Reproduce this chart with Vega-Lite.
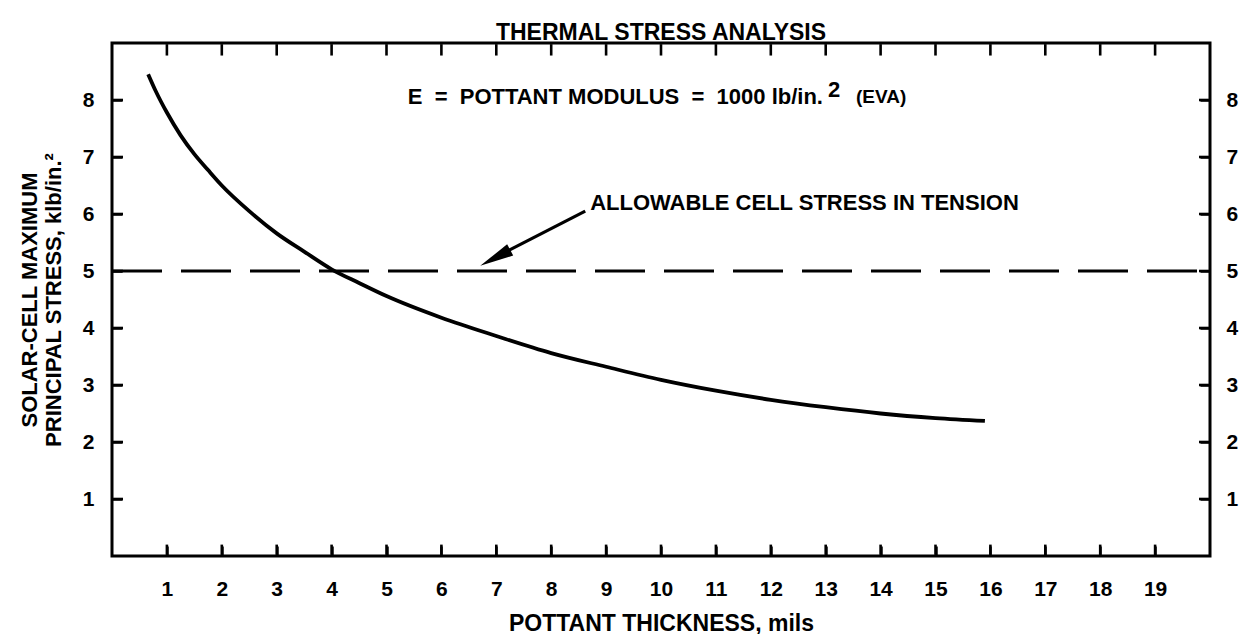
{
  "$schema": "https://vega.github.io/schema/vega-lite/v6.json",
  "width": 1098,
  "height": 513,
  "autosize": {"type": "none"},
  "padding": {"left": 112, "top": 43, "right": 41, "bottom": 78},
  "background": "white",
  "title": {"text": "THERMAL STRESS ANALYSIS", "anchor": "middle", "font": "Liberation Sans", "fontSize": 23, "fontWeight": "bold", "color": "black", "offset": -2},
  "config": {
    "view": {"stroke": "black", "strokeWidth": 3}
  },
  "datasets": {
    "curve": [
      {"t": 0.66, "s": 8.45}, {"t": 0.8, "s": 8.15}, {"t": 1.0, "s": 7.78}, {"t": 1.25, "s": 7.38},
      {"t": 1.5, "s": 7.05}, {"t": 1.75, "s": 6.77}, {"t": 2.0, "s": 6.5}, {"t": 2.5, "s": 6.05},
      {"t": 3.0, "s": 5.66}, {"t": 3.5, "s": 5.34}, {"t": 4.0, "s": 5.03}, {"t": 4.5, "s": 4.79},
      {"t": 5.0, "s": 4.56}, {"t": 6.0, "s": 4.18}, {"t": 7.0, "s": 3.86}, {"t": 8.0, "s": 3.56},
      {"t": 9.0, "s": 3.32}, {"t": 10.0, "s": 3.09}, {"t": 11.0, "s": 2.9}, {"t": 12.0, "s": 2.74},
      {"t": 13.0, "s": 2.61}, {"t": 14.0, "s": 2.5}, {"t": 15.0, "s": 2.42}, {"t": 15.9, "s": 2.37}
    ],
    "limit": [{"t": 0, "s": 5}, {"t": 20, "s": 5}],
    "xticks": [{"t": 1}, {"t": 2}, {"t": 3}, {"t": 4}, {"t": 5}, {"t": 6}, {"t": 7}, {"t": 8}, {"t": 9}, {"t": 10}, {"t": 11}, {"t": 12}, {"t": 13}, {"t": 14}, {"t": 15}, {"t": 16}, {"t": 17}, {"t": 18}, {"t": 19}],
    "yticks": [{"s": 1}, {"s": 2}, {"s": 3}, {"s": 4}, {"s": 5}, {"s": 6}, {"s": 7}, {"s": 8}],
    "arrow": [{"t": 8.62, "s": 6.05, "t2": 7.1, "s2": 5.3}],
    "head": [{"t": 6.98, "s": 5.23}],
    "main": [{"t": 12.95, "s": 8.05, "txt": "E \u00a0=\u00a0 POTTANT MODULUS \u00a0=\u00a0 1000 lb/in."}],
    "allow": [{"t": 8.71, "s": 6.19, "txt": "ALLOWABLE CELL STRESS IN TENSION"}],
    "sup": [{"t": 13.04, "s": 8.18, "txt": "2"}],
    "eva": [{"t": 13.55, "s": 8.06, "txt": "(EVA)"}]
  },
  "resolve": {"axis": {"x": "independent", "y": "independent"}},
  "layer": [
    {
      "data": {"name": "curve"},
      "mark": {"type": "line", "color": "black", "strokeWidth": 3.8, "interpolate": "monotone"},
      "encoding": {
        "x": {"field": "t", "type": "quantitative", "scale": {"domain": [0, 20], "nice": false},
              "axis": {"orient": "bottom", "zindex": 2, "values": [1,2,3,4,5,6,7,8,9,10,11,12,13,14,15,16,17,18,19], "domain": false, "grid": false, "ticks": true, "tickColor": "black", "tickWidth": 2.5, "tickOpacity": 1, "offset": -10, "tickSize": 10, "labelPadding": 22, "labelFont": "Liberation Sans", "labelFontWeight": "bold", "labelFontSize": 21, "labelColor": "black", "title": "POTTANT THICKNESS, mils", "titleFont": "Liberation Sans", "titleFontWeight": "bold", "titleFontSize": 23, "titleColor": "black", "titlePadding": 13}},
        "y": {"field": "s", "type": "quantitative", "scale": {"domain": [0, 9], "nice": false},
              "axis": {"orient": "left", "zindex": 2, "values": [1,2,3,4,5,6,7,8], "domain": false, "grid": false, "ticks": true, "tickColor": "black", "tickWidth": 2.5, "tickOpacity": 1, "offset": -10, "tickSize": 10, "labelPadding": 18, "labelFont": "Liberation Sans", "labelFontWeight": "bold", "labelFontSize": 21, "labelColor": "black", "title": ["SOLAR-CELL MAXIMUM", "PRINCIPAL STRESS, klb/in.²"], "titleFont": "Liberation Sans", "titleFontWeight": "bold", "titleFontSize": 22, "titleColor": "black", "titlePadding": 17}}
      }
    },
    {
      "data": {"name": "limit"},
      "mark": {"type": "line", "color": "black", "strokeWidth": 2.8, "strokeDash": [50, 19]},
      "encoding": {
        "x": {"field": "t", "type": "quantitative", "scale": {"domain": [0, 20], "nice": false}, "axis": null},
        "y": {"field": "s", "type": "quantitative", "scale": {"domain": [0, 9], "nice": false},
              "axis": {"orient": "right", "zindex": 2, "values": [1,2,3,4,5,6,7,8], "domain": false, "grid": false, "ticks": true, "tickColor": "black", "tickWidth": 2.5, "tickOpacity": 1, "offset": -10, "tickSize": 10, "labelPadding": 16, "labelFont": "Liberation Sans", "labelFontWeight": "bold", "labelFontSize": 21, "labelColor": "black", "title": null}}
      }
    },
    {
      "data": {"name": "xticks"},
      "mark": {"type": "rule", "color": "black", "strokeWidth": 2.6, "opacity": 1},
      "encoding": {
        "x": {"field": "t", "type": "quantitative", "axis": null},
        "y": {"datum": 0.02, "type": "quantitative", "axis": null},
        "y2": {"datum": 0.2}
      }
    },
    {
      "data": {"name": "xticks"},
      "mark": {"type": "rule", "color": "black", "strokeWidth": 2.6, "opacity": 1},
      "encoding": {
        "x": {"field": "t", "type": "quantitative", "axis": null},
        "y": {"datum": 8.98, "type": "quantitative", "axis": null},
        "y2": {"datum": 8.78}
      }
    },
    {
      "data": {"name": "yticks"},
      "mark": {"type": "rule", "color": "black", "strokeWidth": 2.6, "opacity": 1},
      "encoding": {
        "y": {"field": "s", "type": "quantitative", "axis": null},
        "x": {"datum": 0.02, "type": "quantitative", "axis": null},
        "x2": {"datum": 0.2}
      }
    },
    {
      "data": {"name": "yticks"},
      "mark": {"type": "rule", "color": "black", "strokeWidth": 2.6, "opacity": 1},
      "encoding": {
        "y": {"field": "s", "type": "quantitative", "axis": null},
        "x": {"datum": 19.98, "type": "quantitative", "axis": null},
        "x2": {"datum": 19.8}
      }
    },
    {
      "data": {"name": "arrow"},
      "mark": {"type": "rule", "color": "black", "strokeWidth": 3.2},
      "encoding": {
        "x": {"field": "t", "type": "quantitative", "axis": null},
        "y": {"field": "s", "type": "quantitative", "axis": null},
        "x2": {"field": "t2"},
        "y2": {"field": "s2"}
      }
    },
    {
      "data": {"name": "head"},
      "mark": {"type": "point", "shape": "M -1 0 L 1 -0.38 L 1 0.38 Z", "filled": true, "color": "black", "opacity": 1, "size": 1150, "angle": 332},
      "encoding": {
        "x": {"field": "t", "type": "quantitative", "axis": null},
        "y": {"field": "s", "type": "quantitative", "axis": null}
      }
    },
    {
      "data": {"name": "main"},
      "mark": {"type": "text", "font": "Liberation Sans", "fontWeight": "bold", "fontSize": 22, "color": "black", "baseline": "middle", "align": "right"},
      "encoding": {
        "x": {"field": "t", "type": "quantitative", "axis": null},
        "y": {"field": "s", "type": "quantitative", "axis": null},
        "text": {"field": "txt"}
      }
    },
    {
      "data": {"name": "allow"},
      "mark": {"type": "text", "font": "Liberation Sans", "fontWeight": "bold", "fontSize": 22, "color": "black", "baseline": "middle", "align": "left"},
      "encoding": {
        "x": {"field": "t", "type": "quantitative", "axis": null},
        "y": {"field": "s", "type": "quantitative", "axis": null},
        "text": {"field": "txt"}
      }
    },
    {
      "data": {"name": "sup"},
      "mark": {"type": "text", "font": "Liberation Sans", "fontWeight": "bold", "fontSize": 22, "color": "black", "baseline": "middle", "align": "left"},
      "encoding": {
        "x": {"field": "t", "type": "quantitative", "axis": null},
        "y": {"field": "s", "type": "quantitative", "axis": null},
        "text": {"field": "txt"}
      }
    },
    {
      "data": {"name": "eva"},
      "mark": {"type": "text", "font": "Liberation Sans", "fontWeight": "bold", "fontSize": 19, "color": "black", "baseline": "middle", "align": "left"},
      "encoding": {
        "x": {"field": "t", "type": "quantitative", "axis": null},
        "y": {"field": "s", "type": "quantitative", "axis": null},
        "text": {"field": "txt"}
      }
    }
  ]
}
